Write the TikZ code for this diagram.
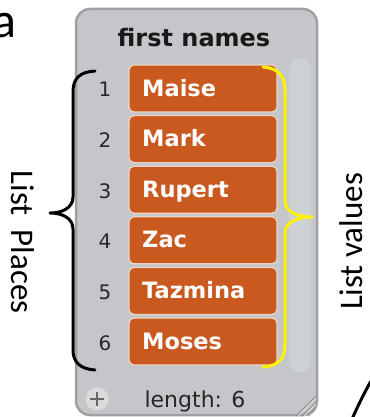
\documentclass[tikz,border=0pt]{standalone}
\usepackage{fontspec}
\setmainfont{DejaVu Sans}
\newfontfamily\carlito{Carlito}
\definecolor{panelfill}{RGB}{196,198,202}
\definecolor{panelline}{RGB}{160,160,162}
\definecolor{scrollfill}{RGB}{206,209,212}
\definecolor{itemfill}{RGB}{201,89,31}
\definecolor{itemline}{RGB}{238,214,198}
\definecolor{numcol}{RGB}{40,40,40}
\definecolor{yel}{RGB}{255,242,0}
\tikzset{
  itembox/.style={fill=itemfill, draw=itemline, line width=1.2pt, rounded corners=5pt},
  itemtext/.style={anchor=base west, inner sep=0pt, text=white, font=\fontsize{22.5}{22.5}\selectfont\bfseries},
  numtext/.style={anchor=base, inner sep=0pt, text=numcol, font=\fontsize{20}{20}\selectfont},
  bracepath/.style={line width=3pt, line cap=round, line join=round},
  sidelabel/.style={inner sep=0pt, font=\fontsize{33}{33}\selectfont\carlito}
}
\begin{document}
\begin{tikzpicture}[x=1pt,y=-1pt]
\useasboundingbox (0,0) rectangle (369,417);
% panel
\draw[fill=panelfill, draw=panelline, line width=2.5pt, rounded corners=14pt] (76,9) rectangle (317,415);
\fill[scrollfill, rounded corners=11pt] (289,58) rectangle (311,372);
\node[anchor=base, inner sep=0pt, font=\fontsize{24}{24}\selectfont\bfseries, text=black!90] (title) at (194,47) {first names};
% items
\foreach \i/\name in {1/Maise,2/Mark,3/Rupert,4/Zac,5/Tazmina,6/Moses}{
  \pgfmathsetmacro{\t}{65+(\i-1)*50.6}
  \draw[itembox] (129,\t) rectangle (277,\t+47);
  \node[itemtext] (item\i) at (142,\t+31) {\name};
  \node[numtext] (num\i) at (105,\t+32) {\i};
}
% bottom bar
\node[circle, fill=black!14, minimum size=23pt, inner sep=0pt] (plus) at (97,399) {};
\draw[black!60, line width=1.3pt] (plus.center) ++(-7,0) -- ++(14,0);
\draw[black!60, line width=1.3pt] (plus.center) ++(0,-7) -- ++(0,14);
\node[anchor=base, inner sep=0pt, font=\fontsize{22}{22}\selectfont, text=black!85] (len) at (195,407) {length: 6};
% grip
\foreach \d in {0,6,12}{
  \draw[black!45, line width=1pt] (296+\d,416) -- (316,396+\d);
  \draw[white!85!black, line width=0.8pt] (298+\d,416) -- (316,398+\d);
}
% braces
\draw[bracepath, black] (95,71) .. controls (80,72) and (73,78) .. (73,92) -- (73,197)
  .. controls (73,208) and (62,213) .. (50,213) .. controls (62,213) and (73,218) .. (73,229)
  -- (73,350) .. controls (73,362) and (80,369) .. (95,370);
\draw[bracepath, yel] (263,67) .. controls (278,68) and (285,76) .. (285,90) -- (285,201)
  .. controls (285,212) and (298,217) .. (312,217) .. controls (298,217) and (285,222) .. (285,233)
  -- (285,345) .. controls (285,359) and (278,366) .. (263,367);
% labels
\node[sidelabel, rotate=-90] (places) at (23,242) {List\hspace{14pt}Places};
\node[sidelabel, rotate=90, anchor=base] (values) at (362,241.5) {List values};
\node[anchor=base east, inner sep=0pt, font=\fontsize{50}{50}\selectfont\carlito] (a) at (17,38) {a};
% arc bottom right
\draw[line width=3pt] (352,419) .. controls (357,408) and (363,395) .. (371,381);
\end{tikzpicture}
\end{document}
